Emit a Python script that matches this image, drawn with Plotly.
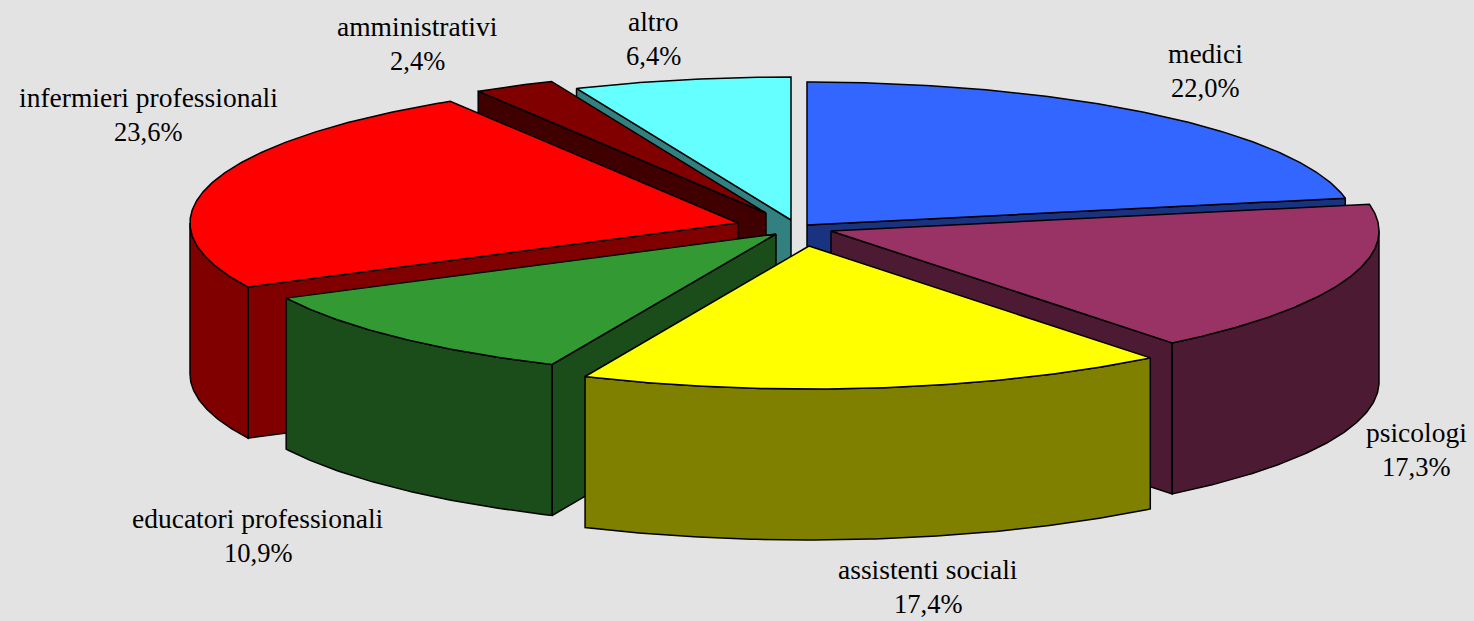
import numpy as np
import plotly.graph_objects as go

# --- data ---
categories = ["medici", "psicologi", "assistenti sociali", "educatori professionali",
              "infermieri professionali", "amministrativi", "altro"]
values = [22.0, 17.3, 17.4, 10.9, 23.6, 2.4, 6.4]

# --- style ---
top_colors = ["#3366FF", "#993366", "#FFFF00", "#339933", "#FF0000", "#800000", "#66FFFF"]
side_colors = ["#1A3380", "#4D1A33", "#808000", "#1A4D1A", "#800000", "#400000", "#338080"]
slice_shift_x = [15, 39, 17, -16, -54, -26, -1]
slice_shift_y = [-1, 5, 20, 8, -3, -13, -6]
label_x = [1205, 1416, 928, 258, 148, 417, 653]
label_y = [53, 432, 569, 518, 97, 26, 21]
draw_order = [6, 5, 4, 0, 1, 3, 2]

W, H = 1474, 621
CX, CY = 792, 226
RX, RY, DEPTH = 548, 143, 151
LINE_GAP = 35
FONT = "Liberation Serif"
NAME_SIZE = 27.5
PCT_SIZE = 26.5
BG = "#E3E3E3"

fractions = np.cumsum([0] + values) / sum(values)
start_deg = fractions[:-1] * 360
end_deg = fractions[1:] * 360


def rim(i, a0, a1):
    """Points on a slice's top rim between two angles (clockwise from 12 o'clock)."""
    n = max(2, int(abs(a1 - a0) * 2) + 1)
    t = np.radians(np.linspace(a0, a1, n))
    return (CX + slice_shift_x[i] + RX * np.sin(t),
            CY + slice_shift_y[i] - RY * np.cos(t))


def polygon(xs, ys, fill, name):
    return go.Scatter(
        x=np.r_[xs, xs[0]], y=np.r_[ys, ys[0]], mode="lines", fill="toself",
        fillcolor=fill, line=dict(color="black", width=1.5),
        name=name, showlegend=False, hoverinfo="skip",
    )


fig = go.Figure()
for i in draw_order:
    a0, a1 = start_deg[i], end_deg[i]
    ax, ay = CX + slice_shift_x[i], CY + slice_shift_y[i]
    # radial walls facing the viewer
    for ang, visible in ((a0, np.sin(np.radians(a0)) < -1e-6),
                         (a1, np.sin(np.radians(a1)) > 1e-6)):
        if visible:
            rx, ry = rim(i, ang, ang)
            fig.add_trace(polygon(np.array([ax, rx[0], rx[0], ax]),
                                  np.array([ay, ry[0], ry[0] + DEPTH, ay + DEPTH]),
                                  side_colors[i], categories[i]))
    # outer wall: the part of the rim on the front half of the pie
    f0, f1 = max(a0, 90), min(a1, 270)
    if f1 > f0:
        rx, ry = rim(i, f0, f1)
        fig.add_trace(polygon(np.r_[rx, rx[::-1]], np.r_[ry, ry[::-1] + DEPTH],
                              side_colors[i], categories[i]))
    # top face
    rx, ry = rim(i, a0, a1)
    fig.add_trace(polygon(np.r_[ax, rx], np.r_[ay, ry], top_colors[i], categories[i]))

for i, cat in enumerate(categories):
    pct = f"{values[i]:.1f}%".replace(".", ",")
    for k, (txt, size) in enumerate(((cat, NAME_SIZE), (pct, PCT_SIZE))):
        fig.add_annotation(x=label_x[i], y=label_y[i] + k * LINE_GAP, text=txt,
                           showarrow=False, xanchor="center", yanchor="middle",
                           font=dict(family=FONT, size=size, color="black"))

fig.update_layout(
    width=W, height=H, margin=dict(l=0, r=0, t=0, b=0),
    paper_bgcolor=BG, plot_bgcolor=BG, showlegend=False,
    xaxis=dict(range=[0, W], visible=False, fixedrange=True),
    yaxis=dict(range=[H, 0], visible=False, fixedrange=True),
)
fig.write_html("out.html", config={"displayModeBar": False},
               post_script="document.body.style.margin='0';document.body.style.background='%s';" % BG)
